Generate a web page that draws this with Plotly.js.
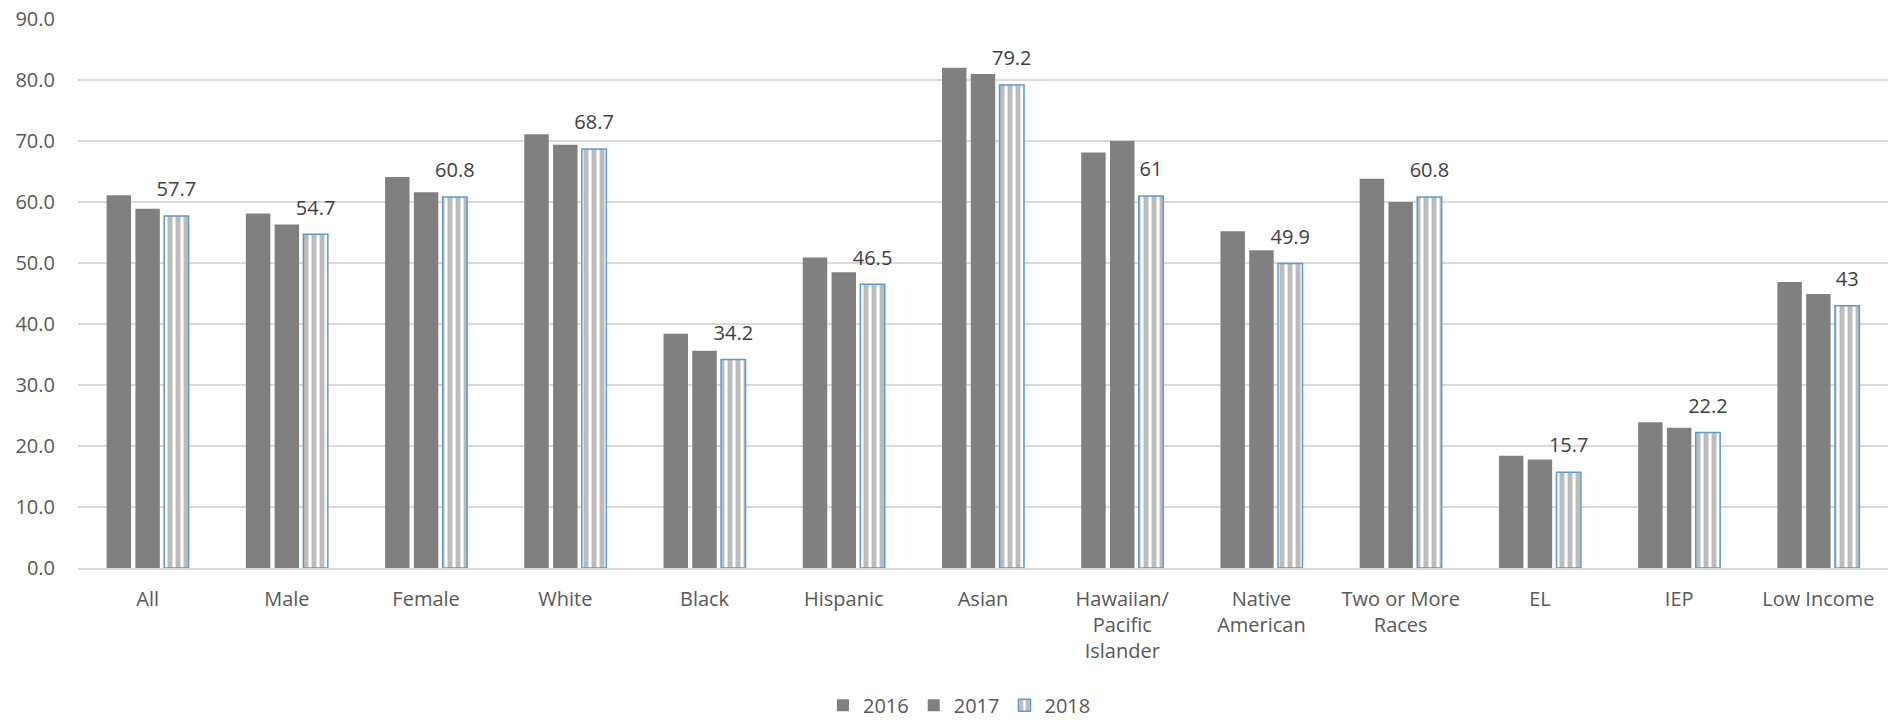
<!DOCTYPE html>
<html>
<head>
<meta charset="utf-8">
<script src="https://cdn.plot.ly/plotly-3.0.1.min.js"></script>
<style>
  html, body { margin: 0; padding: 0; background: #ffffff; }
  #chart { width: 1900px; height: 724px; }
</style>
</head>
<body>
<div id="chart"></div>
<script>
// Student groups along the x axis
const categories = [
  "All", "Male", "Female", "White", "Black", "Hispanic", "Asian",
  "Hawaiian/<br>Pacific<br>Islander", "Native<br>American", "Two or More<br>Races",
  "EL", "IEP", "Low Income"
];

// Rates by year
const values2016 = [61.1, 58.1, 64.1, 71.1, 38.4, 50.9, 82.0, 68.1, 55.2, 63.8, 18.4, 23.9, 46.9];
const values2017 = [58.9, 56.3, 61.6, 69.4, 35.6, 48.5, 81.0, 70.0, 52.1, 60.0, 17.8, 23.0, 44.9];
const values2018 = [57.7, 54.7, 60.8, 68.7, 34.2, 46.5, 79.2, 61, 49.9, 60.8, 15.7, 22.2, 43];

const yTicks = [0, 10, 20, 30, 40, 50, 60, 70, 80, 90];

const FONT = "'Open Sans', 'Noto Sans', sans-serif";
const GRAY = "#808080";

const traces = [
  {
    type: "bar", name: "2016", x: categories, y: values2016,
    offsetgroup: "y2016", alignmentgroup: "years",
    marker: { color: GRAY, line: { width: 0 } },
    hoverinfo: "skip"
  },
  {
    type: "bar", name: "2017", x: categories, y: values2017,
    offsetgroup: "y2017", alignmentgroup: "years",
    marker: { color: GRAY, line: { width: 0 } },
    hoverinfo: "skip"
  },
  {
    type: "bar", name: "2018", x: categories, y: values2018,
    offsetgroup: "y2018", alignmentgroup: "years",
    marker: {
      color: "#ffffff",
      line: { color: "#5B9BD5", width: 1.5 },
      pattern: { shape: "|", fgcolor: "#7a7a7a", bgcolor: "#ffffff", size: 8, solidity: 0.62, fillmode: "overlay" }
    },
    hoverinfo: "skip"
  },
  // value labels for 2018, sitting above the 2018 bars (invisible markers give the gap)
  {
    type: "scatter", mode: "markers+text", name: "2018 labels", showlegend: false,
    x: categories, y: values2018,
    offsetgroup: "y2018", alignmentgroup: "years",
    text: values2018.map(v => String(v)),
    textposition: "top center",
    cliponaxis: false,
    marker: { size: 22, opacity: 0 },
    textfont: { family: FONT, size: 20, color: "#404040" },
    hoverinfo: "skip"
  }
];

const layout = {
  width: 1900,
  height: 724,
  paper_bgcolor: "#ffffff",
  plot_bgcolor: "#ffffff",
  margin: { l: 78, r: 12, t: 19, b: 156, autoexpand: false },
  barmode: "group",
  scattermode: "group",
  bargap: 0.38,
  scattergap: 0.38,
  bargroupgap: 0.15,
  font: { family: FONT, size: 20, color: "#595959" },
  showlegend: true,
  legend: {
    orientation: "h",
    x: 0.487, xref: "paper", xanchor: "center",
    y: -0.25, yref: "paper", yanchor: "middle",
    font: { family: FONT, size: 20, color: "#595959" },
    traceorder: "normal"
  },
  xaxis: {
    type: "category",
    showgrid: false,
    showline: true,
    linecolor: "#D9D9D9",
    linewidth: 1.5,
    ticks: "outside",
    ticklen: 12,
    tickcolor: "rgba(0,0,0,0)",
    tickfont: { family: FONT, size: 20, color: "#595959" },
    tickangle: 0,
    automargin: false,
    fixedrange: true
  },
  yaxis: {
    range: [0, 90],
    tickvals: yTicks,
    ticktext: yTicks.map(v => v.toFixed(1)),
    showgrid: true,
    gridcolor: "#D9D9D9",
    gridwidth: 1.5,
    zeroline: false,
    showline: false,
    ticks: "outside",
    ticklen: 18,
    tickcolor: "rgba(0,0,0,0)",
    tickfont: { family: FONT, size: 20, color: "#595959" },
    automargin: false,
    fixedrange: true
  }
};

Plotly.newPlot("chart", traces, layout, { displayModeBar: false, staticPlot: true });
</script>
</body>
</html>
